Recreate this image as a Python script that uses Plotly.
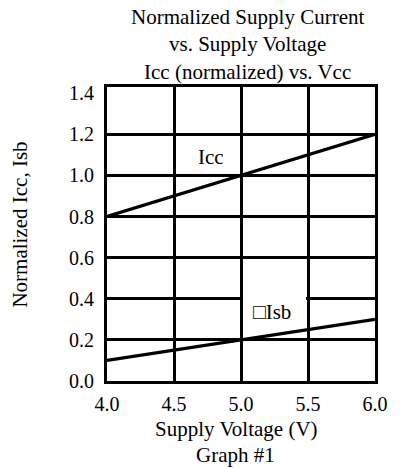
import plotly.graph_objects as go

vcc = [4.0, 5.0, 6.0]
icc = [0.8, 1.0, 1.2]
isb = [0.1, 0.2, 0.3]
x_ticks = [4.0, 4.5, 5.0, 5.5, 6.0]
y_ticks = [0.0, 0.2, 0.4, 0.6, 0.8, 1.0, 1.2, 1.4]
x_grid = [4.5, 5.0, 5.5]
y_grid = [0.2, 0.4, 0.6, 0.8, 1.0, 1.2]

FONT = "Liberation Serif, Times New Roman, serif"
FS = 21
TFS = 20

fig = go.Figure()
fig.add_trace(go.Scatter(x=vcc, y=icc, mode="lines", line=dict(color="black", width=3.2), showlegend=False))
fig.add_trace(go.Scatter(x=vcc, y=isb, mode="lines", line=dict(color="black", width=3.2), showlegend=False))

# white patch behind the Isb label (interrupts the 0.4 gridline in that cell)
fig.add_shape(type="rect", xref="x", yref="y", x0=5.015, x1=5.485, y0=0.37, y1=0.43,
              fillcolor="white", line=dict(width=0), layer="above")

fig.add_annotation(x=4.775, y=1.09, xref="x", yref="y", text="Icc", showarrow=False,
                   font=dict(family=FONT, size=FS, color="black"))
fig.add_annotation(x=5.232, y=0.336, xref="x", yref="y", text="□Isb", showarrow=False,
                   font=dict(family=FONT, size=FS, color="black"))

# title
fig.add_annotation(x=(252 - 107) / 276, y=1 + (87 - 3) / 294, xref="paper", yref="paper",
                   xanchor="center", yanchor="top", showarrow=False,
                   text="Normalized Supply Current<br>vs. Supply Voltage<br>Icc (normalized) vs. Vcc",
                   font=dict(family=FONT, size=FS, color="black"))
# x axis title (two lines)
fig.add_annotation(x=(240 - 107) / 276, y=-(429 - 381) / 294, xref="paper", yref="paper",
                   xanchor="center", yanchor="middle", showarrow=False,
                   text="Supply Voltage (V)",
                   font=dict(family=FONT, size=FS, color="black"))
fig.add_annotation(x=(239 - 107) / 276, y=-(455 - 381) / 294, xref="paper", yref="paper",
                   xanchor="center", yanchor="middle", showarrow=False,
                   text="Graph #1",
                   font=dict(family=FONT, size=FS, color="black"))
# y axis title
fig.add_annotation(x=(17 - 107) / 276, y=(381 - 225) / 294, xref="paper", yref="paper",
                   xanchor="center", yanchor="middle", showarrow=False, textangle=-90,
                   text="Normalized Icc, Isb",
                   font=dict(family=FONT, size=FS, color="black"))

fig.update_layout(
    width=400, height=468,
    margin=dict(l=107, r=17, t=87, b=87),
    paper_bgcolor="white", plot_bgcolor="white",
    font=dict(family=FONT, size=TFS, color="black"),
)

fig.update_xaxes(range=[4.0, 6.0], tickvals=x_ticks, tickformat=".1f",
                 showgrid=False,
                 minor=dict(tickvals=x_grid, showgrid=True, gridcolor="black", gridwidth=2.6, ticks=""),
                 showline=True, linecolor="black", linewidth=3.2, mirror=True,
                 ticks="", ticklabelstandoff=3, zeroline=False,
                 tickfont=dict(family=FONT, size=TFS))
fig.update_yaxes(range=[0, 1.43], tickvals=y_ticks, tickformat=".1f",
                 showgrid=False,
                 minor=dict(tickvals=y_grid, showgrid=True, gridcolor="black", gridwidth=2.6, ticks=""),
                 showline=True, linecolor="black", linewidth=3.2, mirror=True,
                 ticks="", ticklabelstandoff=6, zeroline=False,
                 tickfont=dict(family=FONT, size=TFS))

fig.write_html("out.html")
